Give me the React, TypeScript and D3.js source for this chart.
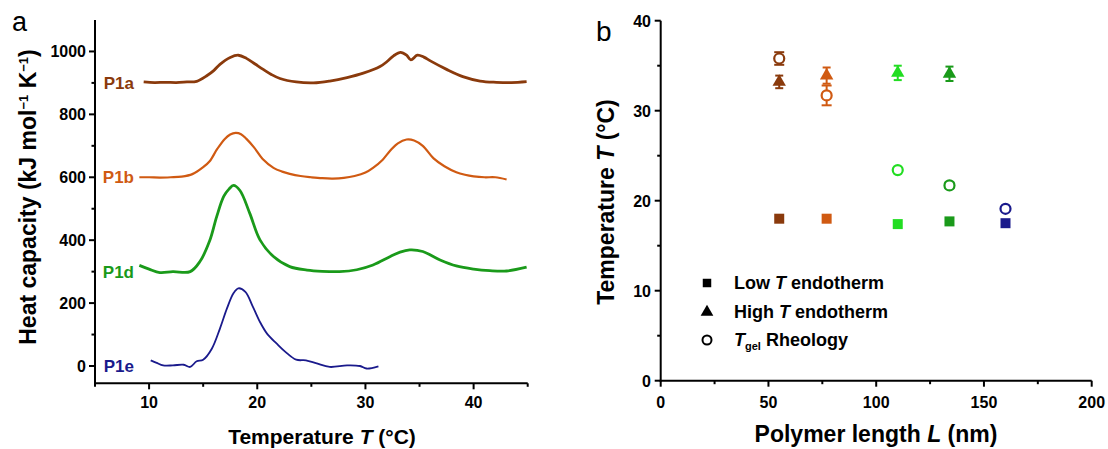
import React from "react";
import * as d3 from "d3";

const width = 1108;
const height = 449;
const font = "'Liberation Sans', Arial, sans-serif";

// ---- panel a: heat capacity traces, [T (°C), Cp (kJ/mol/K)] ----
const p1a: [number, number][] = [
  [9.5, 903], [10.5, 901], [11.5, 902], [12.5, 901], [13.5, 903], [14.4, 905],
  [15.3, 922], [16, 940], [16.55, 959], [17.5, 981], [18.25, 988], [19, 978],
  [19.8, 960], [20.55, 943], [21.3, 927], [22.1, 914], [23.6, 903], [25.2, 900],
  [26.7, 906], [28.3, 917], [29.8, 931], [31.35, 952], [32, 968], [32.6, 986],
  [33.25, 997], [33.8, 988], [34.2, 973], [34.8, 988], [35.4, 982], [36, 970],
  [37.5, 943], [39, 920], [40.6, 906], [42.1, 902], [43.5, 901], [44.9, 904]
];
const p1b: [number, number][] = [
  [9.1, 600], [10, 600], [11, 599], [12, 600], [13, 602], [14, 610], [15, 632],
  [15.6, 651], [16.3, 690], [17, 722], [17.5, 736], [18, 741], [18.5, 737],
  [19, 722], [19.7, 695], [20.5, 658], [21.5, 630], [22.3, 618], [23, 611],
  [24, 604], [25, 600], [26, 597], [27, 596], [28, 598], [29, 604], [30, 615],
  [30.7, 630], [31.6, 656], [32.3, 685], [33, 708], [33.8, 720], [34.5, 717],
  [35.3, 700], [36.3, 660], [37.3, 635], [38.4, 616], [39.2, 608], [40, 603],
  [41, 600], [42, 600], [43.05, 593]
];
const p1d: [number, number][] = [
  [9.1, 320], [10, 308], [11, 297], [12.2, 300], [13.8, 300], [14.7, 332],
  [15.6, 398], [16.25, 475], [16.9, 539], [17.4, 563], [17.8, 574], [18.4, 558],
  [19.3, 486], [20.25, 401], [21.5, 348], [23, 316], [24.6, 305], [26, 301],
  [27.6, 300], [29.2, 306], [30.7, 321], [32.3, 348], [33.2, 362], [34.1, 369],
  [35.3, 364], [36.9, 337], [38.4, 318], [40, 308], [41.5, 303], [43.05, 302],
  [44.9, 314]
];
const p1e: [number, number][] = [
  [10.15, 18], [10.7, 10], [11.3, 2], [12.2, 2], [13.2, 4], [13.8, -3],
  [14.4, 15], [15, 20], [15.8, 55], [16.55, 119], [17.2, 183], [17.8, 231],
  [18.25, 247], [18.9, 236], [19.6, 188], [20.25, 140], [20.9, 103], [21.8, 71],
  [22.6, 45], [23.6, 20], [24.5, 18], [25.5, 8], [26.7, -3], [28.3, 2],
  [29.5, 0], [30.1, -8], [31.2, -1]
];
const traces = [
  { name: "P1a", data: p1a, color: "#8a3a0c", width: 2.8, labelY: 900 },
  { name: "P1b", data: p1b, color: "#d05a12", width: 2.2, labelY: 600 },
  { name: "P1d", data: p1d, color: "#1a9a1a", width: 2.8, labelY: 300 },
  { name: "P1e", data: p1e, color: "#1a1a8c", width: 1.8, labelY: 0 }
];
const aMajorY = [0, 200, 400, 600, 800, 1000];
const aMinorY = [100, 300, 500, 700, 900];
const aMajorX = [10, 20, 30, 40];
const aMinorX = [5, 15, 25, 35, 45];

// ---- panel b: transition temperatures vs polymer length ----
const lengths = [55, 77, 110, 134, 160];
const sampleColors = ["#8a3a0c", "#d05a12", "#22dd22", "#1a9a1a", "#1a1a8c"];
const lowT = [18.0, 18.0, 17.4, 17.7, 17.5];
const highT = [33.2, 33.9, 34.2, 34.1, null];
const highTErr = [0.7, 0.9, 0.8, 0.8, 0];
const tGel = [35.8, 31.7, 23.4, 21.7, 19.1];
const tGelErr = [0.7, 1.1, 0, 0.3, 0];
const bMajorY = [0, 10, 20, 30, 40];
const bMinorY = [5, 15, 25, 35];
const bMajorX = [0, 50, 100, 150, 200];
const bMinorX = [25, 75, 125, 175];

const xA = d3.scaleLinear().domain([5, 45]).range([95, 527.7]);
const yA = d3.scaleLinear().domain([-55, 1100]).range([383.3, 20]);
const xB = d3.scaleLinear().domain([0, 200]).range([660.7, 1091.7]);
const yB = d3.scaleLinear().domain([0, 40]).range([380.7, 20.7]);

const line = d3
  .line<[number, number]>()
  .x(d => xA(d[0]))
  .y(d => yA(d[1]))
  .curve(d3.curveCatmullRom.alpha(0.5));

const square = d3.symbol().type(d3.symbolSquare).size(100)();
const triangle = d3.symbol().type(d3.symbolTriangle).size(78)();
const legendSquare = d3.symbol().type(d3.symbolSquare).size(72)();
const legendTriangle = d3.symbol().type(d3.symbolTriangle).size(70)();

function Axes({ x, y, majorX, minorX, majorY, minorY, ylx }: any) {
  const x0 = x.range()[0];
  const y0 = y.range()[0];
  return (
    <g stroke="#000" strokeWidth={2} fontFamily={font} fontWeight="bold" fontSize={16}>
      <line x1={x0} x2={x0} y1={y.range()[1]} y2={y0 + 1} />
      <line x1={x0 - 1} x2={x.range()[1]} y1={y0} y2={y0} />
      {majorY.map((v: number) => (
        <g key={"my" + v}>
          <line x1={x0 - 6} x2={x0} y1={y(v)} y2={y(v)} />
          <text x={ylx} y={y(v) + 6} textAnchor="end" stroke="none" fill="#000">{v}</text>
        </g>
      ))}
      {minorY.map((v: number) => (
        <line key={"ny" + v} x1={x0 - 3.5} x2={x0} y1={y(v)} y2={y(v)} />
      ))}
      {majorX.map((v: number) => (
        <g key={"mx" + v}>
          <line x1={x(v)} x2={x(v)} y1={y0} y2={y0 + 6} />
          <text x={x(v)} y={407.5} textAnchor="middle" stroke="none" fill="#000">{v}</text>
        </g>
      ))}
      {minorX.map((v: number) => (
        <line key={"nx" + v} x1={x(v)} x2={x(v)} y1={y0} y2={y0 + 3.5} />
      ))}
    </g>
  );
}

export default function App() {
  return (
    <svg width={width} height={height} style={{ position: "absolute", left: 0, top: 0, background: "#fff" }}>
      <rect width={width} height={height} fill="#fff" />
      {/* panel a */}
      <text x={12} y={31} fontFamily={font} fontSize={27}>a</text>
      <Axes x={xA} y={yA} majorX={aMajorX} minorX={aMinorX} majorY={aMajorY} minorY={aMinorY} ylx={86} />
      {traces.map(t => (
        <g key={t.name}>
          <path d={line(t.data) || ""} fill="none" stroke={t.color} strokeWidth={t.width} strokeLinejoin="round" />
          <text x={134} y={yA(t.labelY) + 6} textAnchor="end" fill={t.color}
            fontFamily={font} fontWeight="bold" fontSize={17}>{t.name}</text>
        </g>
      ))}
      <text x={322} y={444} textAnchor="middle" fontFamily={font} fontWeight="bold" fontSize={21}>
        Temperature <tspan fontStyle="italic">T</tspan> (°C)
      </text>
      <text transform={`translate(36, 197) rotate(-90)`} textAnchor="middle"
        fontFamily={font} fontWeight="bold" fontSize={23}>
        Heat capacity (kJ mol<tspan fontSize={13} dy={-8}>−1</tspan>
        <tspan dy={8}> K</tspan><tspan fontSize={13} dy={-8}>−1</tspan><tspan dy={8}>)</tspan>
      </text>

      {/* panel b */}
      <text x={596} y={41} fontFamily={font} fontSize={28}>b</text>
      <Axes x={xB} y={yB} majorX={bMajorX} minorX={bMinorX} majorY={bMajorY} minorY={bMinorY} ylx={651} />
      <text x={876} y={442} textAnchor="middle" fontFamily={font} fontWeight="bold" fontSize={23}>
        Polymer length <tspan fontStyle="italic">L</tspan> (nm)
      </text>
      <text transform={`translate(614, 202) rotate(-90)`} textAnchor="middle"
        fontFamily={font} fontWeight="bold" fontSize={23}>
        Temperature <tspan fontStyle="italic">T</tspan> (°C)
      </text>

      {lengths.map((L, i) => {
        const c = sampleColors[i];
        const cx = xB(L);
        const hT = highT[i];
        return (
          <g key={L} stroke={c}>
            {hT != null && highTErr[i] > 0 && (
              <g strokeWidth={2}>
                <line x1={cx} x2={cx} y1={yB(hT - highTErr[i])} y2={yB(hT + highTErr[i])} />
                <line x1={cx - 4} x2={cx + 4} y1={yB(hT - highTErr[i])} y2={yB(hT - highTErr[i])} />
                <line x1={cx - 4} x2={cx + 4} y1={yB(hT + highTErr[i])} y2={yB(hT + highTErr[i])} />
              </g>
            )}
            {tGelErr[i] > 0 && (
              <g strokeWidth={2}>
                <line x1={cx} x2={cx} y1={yB(tGel[i] - tGelErr[i])} y2={yB(tGel[i] + tGelErr[i])} />
                <line x1={cx - 5} x2={cx + 5} y1={yB(tGel[i] - tGelErr[i])} y2={yB(tGel[i] - tGelErr[i])} />
                <line x1={cx - 5} x2={cx + 5} y1={yB(tGel[i] + tGelErr[i])} y2={yB(tGel[i] + tGelErr[i])} />
              </g>
            )}
            <path d={square || ""} transform={`translate(${cx},${yB(lowT[i])})`} fill={c} stroke="none" />
            {hT != null && (
              <path d={triangle || ""} transform={`translate(${cx},${yB(hT)})`} fill={c} stroke="none" />
            )}
            <circle cx={cx} cy={yB(tGel[i])} r={5} fill="#fff" strokeWidth={2.2} />
          </g>
        );
      })}

      {/* legend */}
      <g fontFamily={font} fontWeight="bold" fontSize={18}>
        <path d={legendSquare || ""} transform="translate(707,283)" fill="#000" />
        <text x={734} y={289}>Low <tspan fontStyle="italic">T</tspan> endotherm</text>
        <path d={legendTriangle || ""} transform="translate(707,312)" fill="#000" />
        <text x={734} y={318}>High <tspan fontStyle="italic">T</tspan> endotherm</text>
        <circle cx={707} cy={340} r={4.5} fill="#fff" stroke="#000" strokeWidth={2} />
        <text x={734} y={346}>
          <tspan fontStyle="italic">T</tspan><tspan fontSize={11} dy={4}>gel</tspan>
          <tspan dy={-4}> Rheology</tspan>
        </text>
      </g>
    </svg>
  );
}
